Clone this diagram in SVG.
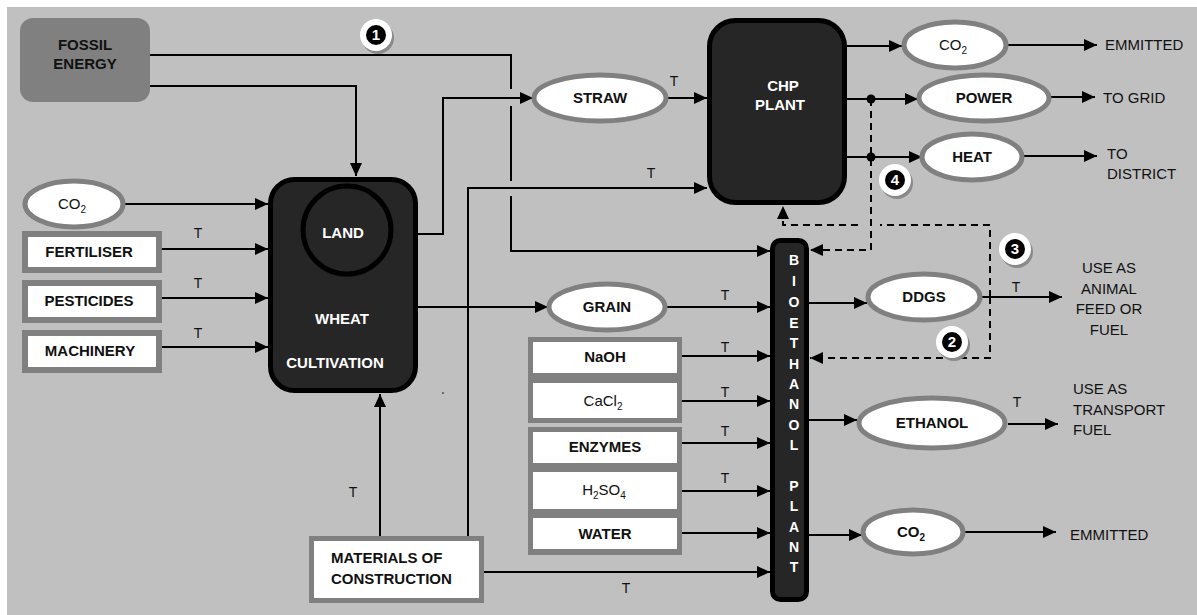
<svg xmlns="http://www.w3.org/2000/svg" width="1197" height="615" viewBox="0 0 1197 615">
<style>
text{font-family:"Liberation Sans",Arial,sans-serif;}
.b{font-weight:bold;font-size:15px;fill:#111;}
.bw{font-weight:bold;font-size:15px;fill:#fff;}
.r{font-size:15px;fill:#111;}
.t{font-size:14px;fill:#111;}
.mid{text-anchor:middle;}
.ell{fill:#fff;stroke:#808080;stroke-width:5;}
.box{fill:#fff;stroke:#808080;stroke-width:6;}
.dark{fill:#262626;stroke:#000;stroke-width:5;}
.ln{fill:none;stroke:#000;stroke-width:2;}
.dash{fill:none;stroke:#000;stroke-width:2;stroke-dasharray:7,5;}
.bw14{font-weight:bold;font-size:14px;fill:#fff;}
</style>
<defs>
<marker id="ah" markerUnits="userSpaceOnUse" markerWidth="13" markerHeight="12" refX="13" refY="6" orient="auto">
<path d="M0,0 L13,6 L0,12 z" fill="#000"/>
</marker>
</defs>
<rect x="7" y="7" width="1190" height="608" fill="#c0c0c0"/>

<g id="connectors">
<path class="ln" d="M150,55 H511 V89 M511,106 V181 M511,196 V251 H770" marker-end="url(#ah)"/>
<path class="ln" d="M150,86 H356 V176" marker-end="url(#ah)"/>
<path class="ln" d="M125,204 H268" marker-end="url(#ah)"/>
<path class="ln" d="M162,249 H268" marker-end="url(#ah)"/>
<path class="ln" d="M162,298 H268" marker-end="url(#ah)"/>
<path class="ln" d="M162,347 H268" marker-end="url(#ah)"/>
<path class="ln" d="M418,234 H443 V98 H533" marker-end="url(#ah)"/>
<path class="ln" d="M667,98 H707" marker-end="url(#ah)"/>
<path class="ln" d="M468,537 V188 H707" marker-end="url(#ah)"/>
<path class="ln" d="M380,537 V394" marker-end="url(#ah)"/>
<path class="ln" d="M418,307 H548" marker-end="url(#ah)"/>
<path class="ln" d="M666,307 H770" marker-end="url(#ah)"/>
<path class="ln" d="M680,356 H770" marker-end="url(#ah)"/>
<path class="ln" d="M680,401 H770" marker-end="url(#ah)"/>
<path class="ln" d="M680,443 H770" marker-end="url(#ah)"/>
<path class="ln" d="M680,491 H770" marker-end="url(#ah)"/>
<path class="ln" d="M680,533 H770" marker-end="url(#ah)"/>
<path class="ln" d="M484,572 H770" marker-end="url(#ah)"/>
<path class="ln" d="M847,46 H902" marker-end="url(#ah)"/>
<path class="ln" d="M1007,45 H1097" marker-end="url(#ah)"/>
<path class="ln" d="M847,99 H918" marker-end="url(#ah)"/>
<path class="ln" d="M1050,97 H1095" marker-end="url(#ah)"/>
<path class="ln" d="M847,157 H922" marker-end="url(#ah)"/>
<path class="ln" d="M1023,156 H1097" marker-end="url(#ah)"/>
<path class="ln" d="M809,303 H867" marker-end="url(#ah)"/>
<path class="ln" d="M982,297 H1062" marker-end="url(#ah)"/>
<path class="ln" d="M809,420 H857" marker-end="url(#ah)"/>
<path class="ln" d="M1008,424 H1058" marker-end="url(#ah)"/>
<path class="ln" d="M809,535 H862" marker-end="url(#ah)"/>
<path class="ln" d="M965,532 H1056" marker-end="url(#ah)"/>
<path class="dash" d="M871,99 V250 H810" marker-end="url(#ah)"/>
<path class="dash" d="M990,297 V358 H810" marker-end="url(#ah)"/>
<path class="dash" d="M990,297 V225 H880 M858,225 H783 V206" marker-end="url(#ah)"/>
<circle cx="871" cy="99" r="4.5" fill="#000"/>
<circle cx="871" cy="157" r="4.5" fill="#000"/>
<circle cx="443" cy="393" r="0.8" fill="#000"/>
<text class="t mid" x="198" y="238">T</text>
<text class="t mid" x="198" y="288">T</text>
<text class="t mid" x="198" y="338">T</text>
<text class="t mid" x="674" y="86">T</text>
<text class="t mid" x="651" y="178">T</text>
<text class="t mid" x="725" y="300">T</text>
<text class="t mid" x="725" y="352">T</text>
<text class="t mid" x="725" y="397">T</text>
<text class="t mid" x="725" y="436">T</text>
<text class="t mid" x="725" y="483">T</text>
<text class="t mid" x="626" y="593">T</text>
<text class="t mid" x="353" y="497">T</text>
<text class="t mid" x="1016" y="292">T</text>
<text class="t mid" x="1017" y="407">T</text>
</g>

<g id="fossil">
<rect x="20" y="18" width="130" height="84" rx="13" fill="#808080"/>
<text class="b mid" x="85" y="50">FOSSIL</text>
<text class="b mid" x="85" y="69">ENERGY</text>
</g>

<g id="co2-in">
<ellipse class="ell" cx="74" cy="204" rx="49" ry="23"/>
<text class="r mid" x="72" y="209">CO<tspan font-size="10" dy="4">2</tspan></text>
</g>
<g id="fertiliser">
<rect class="box" x="25" y="234" width="134" height="36"/>
<text class="b mid" x="89" y="257">FERTILISER</text>
</g>
<g id="pesticides">
<rect class="box" x="25" y="283" width="134" height="37"/>
<text class="b mid" x="89" y="306">PESTICIDES</text>
</g>
<g id="machinery">
<rect class="box" x="25" y="333" width="134" height="37"/>
<text class="b mid" x="90" y="356">MACHINERY</text>
</g>

<g id="wheat">
<rect class="dark" x="270.5" y="179.5" width="145" height="211" rx="24"/>
<circle cx="347" cy="230" r="44" fill="#262626" stroke="#000" stroke-width="5"/>
<text class="bw mid" x="343" y="238">LAND</text>
<text class="bw mid" x="342" y="324">WHEAT</text>
<text class="bw mid" x="335" y="368">CULTIVATION</text>
</g>

<g id="straw">
<ellipse class="ell" cx="600" cy="98" rx="66" ry="23"/>
<text class="b mid" x="600" y="103">STRAW</text>
</g>

<g id="chp">
<rect class="dark" x="709.5" y="20.5" width="135" height="182" rx="26"/>
<text class="bw mid" x="783" y="91">CHP</text>
<text class="bw mid" x="780" y="110">PLANT</text>
</g>

<g id="co2-chp">
<ellipse class="ell" cx="955" cy="45" rx="51" ry="23"/>
<text class="r mid" x="953" y="50">CO<tspan font-size="10" dy="4">2</tspan></text>
</g>
<g id="power">
<ellipse class="ell" cx="984" cy="98" rx="65" ry="23"/>
<text class="b mid" x="984" y="103">POWER</text>
</g>
<g id="heat">
<ellipse class="ell" cx="972" cy="157" rx="50" ry="23"/>
<text class="b mid" x="972" y="162">HEAT</text>
</g>
<g id="out-labels">
<text class="r" x="1105" y="50">EMMITTED</text>
<text class="r" x="1103" y="103">TO GRID</text>
<text class="r" x="1107" y="159">TO</text>
<text class="r" x="1107" y="179">DISTRICT</text>
<text class="r mid" x="1109" y="273">USE AS</text>
<text class="r mid" x="1109" y="294">ANIMAL</text>
<text class="r mid" x="1109" y="314">FEED OR</text>
<text class="r mid" x="1109" y="335">FUEL</text>
<text class="r" x="1073" y="394">USE AS</text>
<text class="r" x="1073" y="415">TRANSPORT</text>
<text class="r" x="1073" y="435">FUEL</text>
<text class="r" x="1070" y="540">EMMITTED</text>
</g>

<g id="grain">
<ellipse class="ell" cx="607" cy="307" rx="58" ry="23"/>
<text class="b mid" x="607" y="312">GRAIN</text>
</g>

<g id="chem1">
<rect x="528" y="337" width="154" height="86" fill="#808080"/>
<rect x="533" y="342" width="144" height="31" fill="#fff"/>
<rect x="533" y="383" width="144" height="35" fill="#fff"/>
<text class="b mid" x="605" y="362">NaOH</text>
<text class="r mid" x="603" y="406">CaCl<tspan font-size="10" dy="4">2</tspan></text>
</g>
<g id="chem2">
<rect x="528" y="427" width="154" height="128" fill="#808080"/>
<rect x="533" y="432" width="144" height="31" fill="#fff"/>
<rect x="533" y="472" width="144" height="37" fill="#fff"/>
<rect x="533" y="518" width="144" height="31" fill="#fff"/>
<text class="b mid" x="605" y="452">ENZYMES</text>
<text class="r mid" x="604" y="495">H<tspan font-size="10" dy="4">2</tspan><tspan dy="-4">SO</tspan><tspan font-size="10" dy="4">4</tspan></text>
<text class="b mid" x="605" y="539">WATER</text>
</g>

<g id="materials">
<rect x="309" y="536" width="175" height="67" fill="#808080"/>
<rect x="314" y="541" width="165" height="57" fill="#fff"/>
<text class="b" x="331" y="563">MATERIALS OF</text>
<text class="b" x="331" y="584">CONSTRUCTION</text>
</g>

<g id="bioethanol">
<rect class="dark" x="772.5" y="240.5" width="34" height="359" rx="8"/>
<text class="bw14 mid">
<tspan x="794" y="265">B</tspan><tspan x="794" y="286">I</tspan><tspan x="794" y="307">O</tspan><tspan x="794" y="328">E</tspan><tspan x="794" y="348">T</tspan><tspan x="794" y="369">H</tspan><tspan x="794" y="389">A</tspan><tspan x="794" y="409">N</tspan><tspan x="794" y="430">O</tspan><tspan x="794" y="450">L</tspan><tspan x="794" y="491">P</tspan><tspan x="794" y="511">L</tspan><tspan x="794" y="532">A</tspan><tspan x="794" y="552">N</tspan><tspan x="794" y="572">T</tspan>
</text>
</g>

<g id="ddgs">
<ellipse class="ell" cx="924" cy="297" rx="56" ry="23"/>
<text class="b mid" x="924" y="302">DDGS</text>
</g>
<g id="ethanol">
<ellipse class="ell" cx="932" cy="423" rx="73" ry="25"/>
<text class="b mid" x="932" y="428">ETHANOL</text>
</g>
<g id="co2-bio">
<ellipse class="ell" cx="913" cy="532" rx="50" ry="22"/>
<text class="b mid" x="911" y="537">CO<tspan font-size="10" dy="4">2</tspan></text>
</g>

<g id="badge1">
<circle cx="378" cy="38" r="16" fill="#8a8a8a"/>
<circle cx="376" cy="35" r="16" fill="#fff"/>
<circle cx="376" cy="35" r="10" fill="#000"/>
<text class="bw mid" x="376" y="40" font-size="12">1</text>
</g>
<g id="badge2">
<circle cx="954" cy="345" r="16" fill="#8a8a8a"/>
<circle cx="952" cy="342" r="16" fill="#fff"/>
<circle cx="952" cy="342" r="10" fill="#000"/>
<text class="bw mid" x="952" y="347" font-size="12">2</text>
</g>
<g id="badge3">
<circle cx="1017" cy="252" r="16" fill="#8a8a8a"/>
<circle cx="1015" cy="249" r="16" fill="#fff"/>
<circle cx="1015" cy="249" r="10" fill="#000"/>
<text class="bw mid" x="1015" y="254" font-size="12">3</text>
</g>
<g id="badge4">
<circle cx="897" cy="183" r="16" fill="#8a8a8a"/>
<circle cx="895" cy="180" r="16" fill="#fff"/>
<circle cx="895" cy="180" r="10" fill="#000"/>
<text class="bw mid" x="895" y="185" font-size="12">4</text>
</g>
</svg>
